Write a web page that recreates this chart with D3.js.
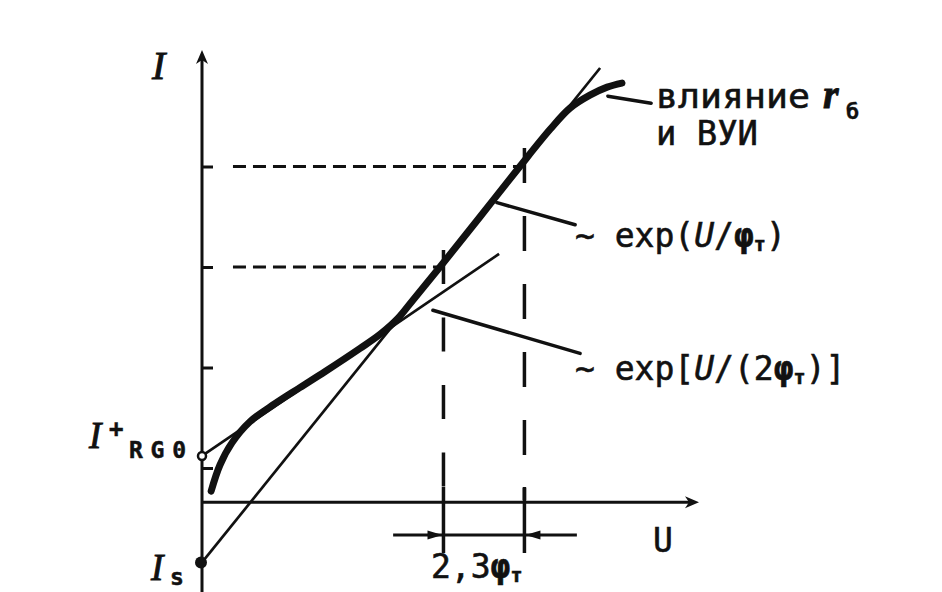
<!DOCTYPE html>
<html><head><meta charset="utf-8">
<script src="https://cdn.jsdelivr.net/npm/d3@7"></script>
<style>body{margin:0;background:#fff}svg{display:block}</style>
</head><body><svg id="c" width="942" height="592"></svg>
<script>
// ---- data (U in units of phi_T, lgI in decades) ----
const yTicks = [1, 2, 3, 4];
const lgOrigin = 0.66;            // level of the U axis
const IsPoint = [0, 0.06];
const IRG0Point = [0, 1.12];
const line1 = [[0, 0.06], [11.31, 4.98]];   // ~ exp(U/phiT)
const line2 = [[0, 1.12], [8.44, 3.13]];    // ~ exp[U/(2phiT)]
const curveU  = [0.26, 0.51, 0.85, 1.36, 2.07, 2.78, 3.50, 4.49, 5.06, 5.57, 5.99, 6.76, 7.90, 9.03, 9.89, 10.45, 11.02, 11.51, 11.93];
const curveLg = [0.77, 1.03, 1.25, 1.46, 1.64, 1.80, 1.96, 2.19, 2.33, 2.49, 2.67, 3.00, 3.50, 4.00, 4.37, 4.58, 4.71, 4.79, 4.83];
const Ua = 6.86, Ub = 9.16;       // dashed verticals, Ub - Ua = 2.3
const dashedH = [{lg: 4, u0: 0.88, u1: 9.16}, {lg: 3, u0: 0.88, u1: 6.80}];
const dimLg = 0.333, dimU0 = 5.43, dimU1 = 10.65;
const pointers = [
  [[8.38, 3.64], [10.60, 3.42]],
  [[6.56, 2.57], [10.74, 2.14]],
  [[11.53, 4.70], [12.76, 4.63]]
];

const svg = d3.select('#c');
const ink = '#111';
const x = d3.scaleLinear().domain([0, 14]).range([202, 202 + 14 * 35.2]);
const y = d3.scaleLinear().domain([0, 5]).range([568.5, 568.5 - 5 * 100.5]);

// axes
svg.append('line').attr('x1', x(0)).attr('x2', x(0)).attr('y1', 592).attr('y2', 58)
  .attr('stroke', ink).attr('stroke-width', 3);
svg.append('path').attr('d', `M${x(0)},50 L${x(0)-6},64 L${x(0)},60 L${x(0)+6},64 Z`).attr('fill', ink);
const yAx = y(lgOrigin);
svg.append('line').attr('x1', x(0)).attr('x2', 692).attr('y1', yAx).attr('y2', yAx)
  .attr('stroke', ink).attr('stroke-width', 3);
svg.append('path').attr('d', `M699,${yAx} L685,${yAx-6} L689,${yAx} L685,${yAx+6} Z`).attr('fill', ink);

const tg = svg.append('g').attr('transform', `translate(${x(0)},0)`)
  .call(d3.axisRight(y).tickValues(yTicks).tickSize(11).tickFormat(''));
tg.select('.domain').remove();
tg.selectAll('.tick line').attr('stroke', ink).attr('stroke-width', 3);

// dashed horizontals
dashedH.forEach(d => {
  svg.append('line').attr('x1', x(d.u0)).attr('x2', x(d.u1)).attr('y1', y(d.lg)).attr('y2', y(d.lg))
    .attr('stroke', ink).attr('stroke-width', 3).attr('stroke-dasharray', '13,7');
});
// dashed verticals
svg.append('line').attr('x1', x(Ua)).attr('x2', x(Ua)).attr('y1', 250).attr('y2', 500)
  .attr('stroke', ink).attr('stroke-width', 3.5).attr('stroke-dasharray', '34,33.5');
svg.append('line').attr('x1', x(Ub)).attr('x2', x(Ub)).attr('y1', 148).attr('y2', 500)
  .attr('stroke', ink).attr('stroke-width', 3.5).attr('stroke-dasharray', '35,33');
[Ua, Ub].forEach(u => svg.append('line').attr('x1', x(u)).attr('x2', x(u)).attr('y1', 487).attr('y2', 553)
  .attr('stroke', ink).attr('stroke-width', 3.5));

// dimension line
const yd = y(dimLg);
svg.append('line').attr('x1', x(dimU0)).attr('x2', x(dimU1)).attr('y1', yd).attr('y2', yd)
  .attr('stroke', ink).attr('stroke-width', 3);
svg.append('path').attr('d', `M${x(Ua)-1},${yd} L${x(Ua)-16},${yd-4.5} L${x(Ua)-16},${yd+4.5} Z`).attr('fill', ink);
svg.append('path').attr('d', `M${x(Ub)+1},${yd} L${x(Ub)+16},${yd-4.5} L${x(Ub)+16},${yd+4.5} Z`).attr('fill', ink);

// thin asymptotes
const ln = d3.line().x(d => x(d[0])).y(d => y(d[1]));
[line1, line2].forEach(l => svg.append('path').attr('d', ln(l)).attr('fill', 'none')
  .attr('stroke', ink).attr('stroke-width', 2.7));

// thick curve
const cdata = curveU.map((u, i) => [u, curveLg[i]]);
svg.append('path').attr('d', d3.line().x(d => x(d[0])).y(d => y(d[1])).curve(d3.curveCatmullRom.alpha(0.5))(cdata))
  .attr('fill', 'none').attr('stroke', ink).attr('stroke-width', 7).attr('stroke-linecap', 'round').attr('stroke-linejoin', 'round');

// pointers
pointers.forEach(p => svg.append('path').attr('d', ln(p)).attr('fill', 'none')
  .attr('stroke', ink).attr('stroke-width', 3.5).attr('stroke-linecap', 'round'));

// points
svg.append('circle').attr('cx', x(IRG0Point[0])).attr('cy', y(IRG0Point[1])).attr('r', 4)
  .attr('fill', '#fff').attr('stroke', ink).attr('stroke-width', 2.5);
svg.append('circle').attr('cx', x(IsPoint[0]) - 1).attr('cy', y(IsPoint[1])).attr('r', 6).attr('fill', ink);

// texts
const mono = '"DejaVu Sans Mono", monospace';
const serif = '"Liberation Serif", "DejaVu Serif", serif';
function t(xp, yp, size, fam, str, sw) {
  return svg.append('text').attr('x', xp).attr('y', yp).attr('font-size', size).attr('font-family', fam)
    .attr('fill', ink).attr('stroke', ink).attr('stroke-width', sw === undefined ? 0.6 : sw).text(str);
}
t(152, 79, 40, serif, 'I', 0.9).attr('font-style', 'italic');
t(653, 552, 33, mono, 'U');

// I+ RG0
t(89, 448, 37, serif, 'I', 0.9).attr('font-style', 'italic');
t(109, 437, 24, mono, '+', 0.5).attr('font-weight', 'bold');
t(129, 458, 23, mono, 'RG0', 0.5).attr('font-weight', 'bold').attr('textLength', 57).attr('lengthAdjust', 'spacing');
// Is
t(151, 580, 37, serif, 'I', 0.9).attr('font-style', 'italic');
t(170, 585, 23, mono, 's', 0.5).attr('font-weight', 'bold');

// 2,3 phiT
const t23 = t(431, 578, 33, mono, '2,3');
t23.append('tspan').attr('font-weight', 'bold').text('φ');
t23.append('tspan').attr('font-weight', 'bold').attr('font-size', 20).attr('dy', 4).text('т');

// влияние r_б и ВУИ
t(656, 108, 34, mono, 'влияние').attr('textLength', 154).attr('lengthAdjust', 'spacingAndGlyphs');
t(823, 108, 40, serif, 'r', 0.9).attr('font-style', 'italic').attr('font-weight', 'bold');
t(846, 119, 22, mono, 'б', 0.3).attr('font-weight', 'bold');
t(656, 145, 34, mono, 'и ВУИ').attr('textLength', 102).attr('lengthAdjust', 'spacingAndGlyphs');

// ~ exp(U/phiT)
function expLabel(yb, two) {
  const tx = t(575, yb, 33, mono, two ? '~ exp[' : '~ exp(');
  tx.append('tspan').attr('font-style', 'italic').text('U');
  tx.append('tspan').text(two ? '/(2' : '/');
  tx.append('tspan').attr('font-weight', 'bold').text('φ');
  tx.append('tspan').attr('font-weight', 'bold').attr('font-size', 20).attr('dy', 4).text('т');
  tx.append('tspan').attr('dy', -4).text(two ? ')]' : ')');
}
expLabel(247, false);
expLabel(380, true);
</script></body></html>
